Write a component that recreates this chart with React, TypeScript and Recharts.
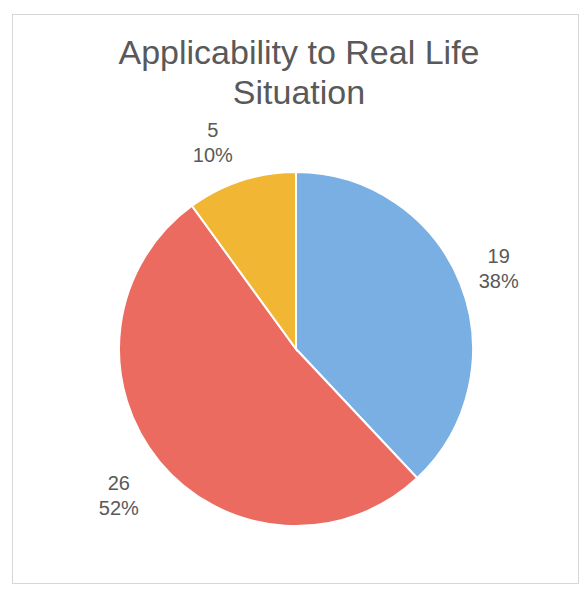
import React from 'react';
import { PieChart, Pie, Cell } from 'recharts';

const categories = ['Yes', 'No', 'Maybe'];
const counts = [19, 26, 5];
const percents = ['38%', '52%', '10%'];
const COLORS = ['#7AAFE3', '#EC6B60', '#F1B734'];

// label placement tweaks (distance from centre, angle nudge in degrees)
const LABEL_DIST = [218, 230, 222];
const LABEL_NUDGE = [0, 0, 4];

const data = categories.map((name, i) => ({ name, value: counts[i] }));

const RADIAN = Math.PI / 180;
const FONT = "'Liberation Sans', Arial, sans-serif";

const renderLabel = ({ cx, cy, midAngle, index }: any) => {
  const r = LABEL_DIST[index];
  const a = (midAngle + LABEL_NUDGE[index]) * RADIAN;
  const x = cx + r * Math.cos(-a);
  const y = cy + r * Math.sin(-a);
  return (
    <text x={x} y={y} textAnchor="middle" fill="#595959" fontSize={20} fontFamily={FONT}>
      <tspan x={x} dy={-6}>{counts[index]}</tspan>
      <tspan x={x} dy={25}>{percents[index]}</tspan>
    </text>
  );
};

export default function App() {
  return (
    <div style={{ position: 'absolute', left: 0, top: 0, width: 587, height: 594, background: '#fff' }}>
      <div
        style={{
          position: 'absolute',
          left: 12,
          top: 14,
          width: 565,
          height: 568,
          border: '1px solid #d6d6d6',
        }}
      />
      <div
        style={{
          position: 'absolute',
          left: 0,
          top: 32,
          width: 598,
          textAlign: 'center',
          fontFamily: FONT,
          fontSize: 34,
          lineHeight: '40px',
          color: '#595959',
        }}
      >
        Applicability to Real Life
        <br />
        Situation
      </div>
      <div style={{ position: 'absolute', left: 0, top: 0 }}>
        <PieChart width={587} height={594} margin={{ top: 0, right: 0, bottom: 0, left: 0 }}>
          <Pie
            data={data}
            dataKey="value"
            nameKey="name"
            cx={296}
            cy={349}
            outerRadius={177}
            startAngle={90}
            endAngle={-270}
            stroke="#ffffff"
            strokeWidth={2}
            label={renderLabel}
            labelLine={false}
            isAnimationActive={false}
          >
            {data.map((d, i) => (
              <Cell key={d.name} fill={COLORS[i]} />
            ))}
          </Pie>
        </PieChart>
      </div>
    </div>
  );
}
